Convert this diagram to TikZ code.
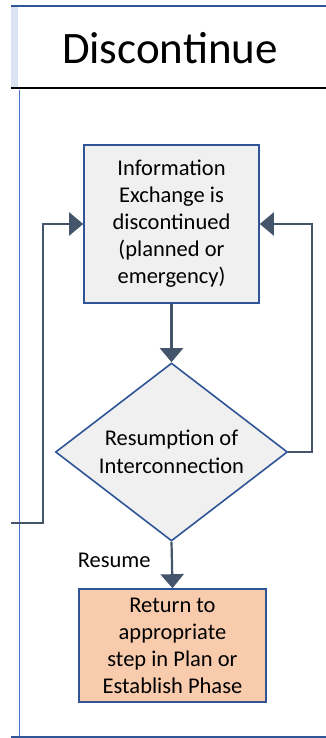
\documentclass[tikz,border=0pt]{standalone}
\usepackage{fontspec}
\setmainfont{Carlito}
\usetikzlibrary{arrows.meta,shapes.geometric}
\definecolor{edgeblue}{HTML}{2F5597}
\definecolor{lineblue}{HTML}{4472C4}
\definecolor{stripblue}{HTML}{DAE3F3}
\definecolor{slate}{HTML}{44546A}
\definecolor{boxgray}{HTML}{F0F0F0}
\definecolor{peach}{HTML}{F8CBAD}
\tikzset{
  procbox/.style={draw=edgeblue, line width=1.6pt, align=center, inner sep=0pt,
    font=\fontsize{22.5}{27}\selectfont},
  decbox/.style={diamond, draw=edgeblue, line width=1.6pt, fill=boxgray, align=center,
    inner sep=0pt, minimum width=232pt, minimum height=178pt, aspect=1.3,
    font=\fontsize{22.5}{28}\selectfont},
  conn/.style={draw=slate, line width=2.2pt, -{Triangle[length=14pt,width=23pt]}},
}
\begin{document}
\begin{tikzpicture}[x=1pt,y=-1pt]
\useasboundingbox (0,0) rectangle (326,738);
% frame
\fill[stripblue] (11,6) rectangle (18,88);
\draw[edgeblue, line width=1.2pt] (11,6) -- (326,6);
\draw[black, line width=2pt] (11,88) -- (326,88);
\draw[lineblue, line width=0.8pt] (19,90) -- (19,738);
\draw[edgeblue, line width=1.2pt] (11,737) -- (326,737);
\node[font=\fontsize{45}{54}\selectfont] (title) at (170,48) {Discontinue};
% nodes
\node[procbox, fill=boxgray, minimum width=175pt, minimum height=158pt] (info) at (171.5,224)
  {Information\\Exchange is\\discontinued\\(planned or\\emergency)};
\node[decbox] (dec) at (171.5,452) {Resumption of\\Interconnection};
\node[procbox, fill=peach, minimum width=187pt, minimum height=113pt] (ret) at (172.5,645.5)
  {Return to\\appropriate\\step in Plan or\\Establish Phase};
\coordinate (lfree) at (11,523);
\coordinate (lcorner) at (43,523);
\coordinate (rcorner) at (312,452);
% connectors
\draw[conn] (info.south) -- (dec.north);
\draw[conn] (dec.south) -- node[anchor=east, xshift=-17pt, yshift=5pt, font=\fontsize{22.5}{27}\selectfont] (resume) {Resume} (ret.north);
\draw[conn] (lfree) -- (lcorner) |- (info.west);
\draw[conn] (dec.east) -- (rcorner) |- (info.east);
\end{tikzpicture}
\end{document}
